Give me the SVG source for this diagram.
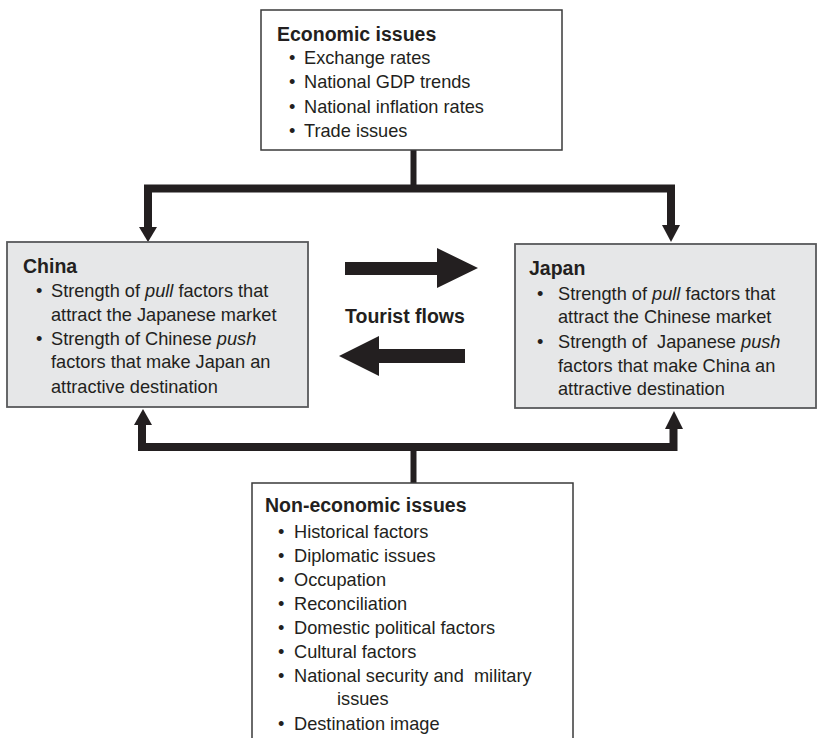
<svg xmlns="http://www.w3.org/2000/svg" width="817" height="738" viewBox="0 0 817 738">
<style>
text{font-family:"Liberation Sans",Arial,sans-serif;fill:#231f20;white-space:pre}
.t{font-size:19.5px;font-weight:bold}
.b{font-size:18.2px}
.box{fill:#fff;stroke:#3a3a3a;stroke-width:1.5}
.gbox{fill:#e6e7e8;stroke:#58595b;stroke-width:1.8}
.line{fill:none;stroke:#231f20;stroke-linejoin:miter}
.head{fill:#231f20}
</style>
<rect width="817" height="738" fill="#fff"/>
<g id="connectors">
<path class="line" d="M413.5,150 V186" stroke-width="6"/>
<path class="line" d="M148,228 V188.5 H671 V226" stroke-width="8"/>
<polygon class="head" points="139,227 157,227 148,242"/>
<polygon class="head" points="662,225 680,225 671,242"/>
<path class="line" d="M142,424 V447 H673.5 V428" stroke-width="8"/>
<path class="line" d="M413.5,450 V483" stroke-width="6"/>
<polygon class="head" points="134,425 152,425 143,409"/>
<polygon class="head" points="665,429 683,429 674,411"/>
<polygon class="head" points="345,262 437,262 437,248 478,268 437,288 437,275 345,275"/>
<polygon class="head" points="465,349 379,349 379,336 339,356 379,376 379,363 465,363"/>
<text class="t" x="345" y="323">Tourist flows</text>
</g>
<g id="economic">
<rect class="box" x="261" y="10" width="301" height="140"/>
<text class="t" x="277" y="41">Economic issues</text>
<text class="b" x="289" y="64">•</text><text class="b" x="304" y="64">Exchange rates</text>
<text class="b" x="289" y="88">•</text><text class="b" x="304" y="88">National GDP trends</text>
<text class="b" x="289" y="113">•</text><text class="b" x="304" y="113">National inflation rates</text>
<text class="b" x="289" y="137">•</text><text class="b" x="304" y="137">Trade issues</text>
</g>
<g id="china">
<rect class="gbox" x="7" y="242" width="301" height="165"/>
<text class="t" x="23" y="273">China</text>
<text class="b" x="36" y="297">•</text><text class="b" x="51" y="297">Strength of <tspan font-style="italic">pull</tspan> factors that</text>
<text class="b" x="51" y="321">attract the Japanese market</text>
<text class="b" x="36" y="345">•</text><text class="b" x="51" y="345">Strength of Chinese <tspan font-style="italic">push</tspan></text>
<text class="b" x="51" y="368">factors that make Japan an</text>
<text class="b" x="51" y="393">attractive destination</text>
</g>
<g id="japan">
<rect class="gbox" x="515" y="244" width="301" height="164"/>
<text class="t" x="529" y="275">Japan</text>
<text class="b" x="537" y="300">•</text><text class="b" x="558" y="300">Strength of <tspan font-style="italic">pull</tspan> factors that</text>
<text class="b" x="558" y="323">attract the Chinese market</text>
<text class="b" x="537" y="348">•</text><text class="b" x="558" y="348">Strength of  Japanese <tspan font-style="italic">push</tspan></text>
<text class="b" x="558" y="372">factors that make China an</text>
<text class="b" x="558" y="395">attractive destination</text>
</g>
<g id="noneconomic">
<rect class="box" x="252" y="483" width="321" height="270"/>
<text class="t" x="265" y="512">Non-economic issues</text>
<text class="b" x="278" y="538">•</text><text class="b" x="294" y="538">Historical factors</text>
<text class="b" x="278" y="562">•</text><text class="b" x="294" y="562">Diplomatic issues</text>
<text class="b" x="278" y="586">•</text><text class="b" x="294" y="586">Occupation</text>
<text class="b" x="278" y="610">•</text><text class="b" x="294" y="610">Reconciliation</text>
<text class="b" x="278" y="634">•</text><text class="b" x="294" y="634">Domestic political factors</text>
<text class="b" x="278" y="658">•</text><text class="b" x="294" y="658">Cultural factors</text>
<text class="b" x="278" y="682">•</text><text class="b" x="294" y="682">National security and  military</text>
<text class="b" x="337" y="705">issues</text>
<text class="b" x="278" y="730">•</text><text class="b" x="294" y="730">Destination image</text>
</g>
</svg>
